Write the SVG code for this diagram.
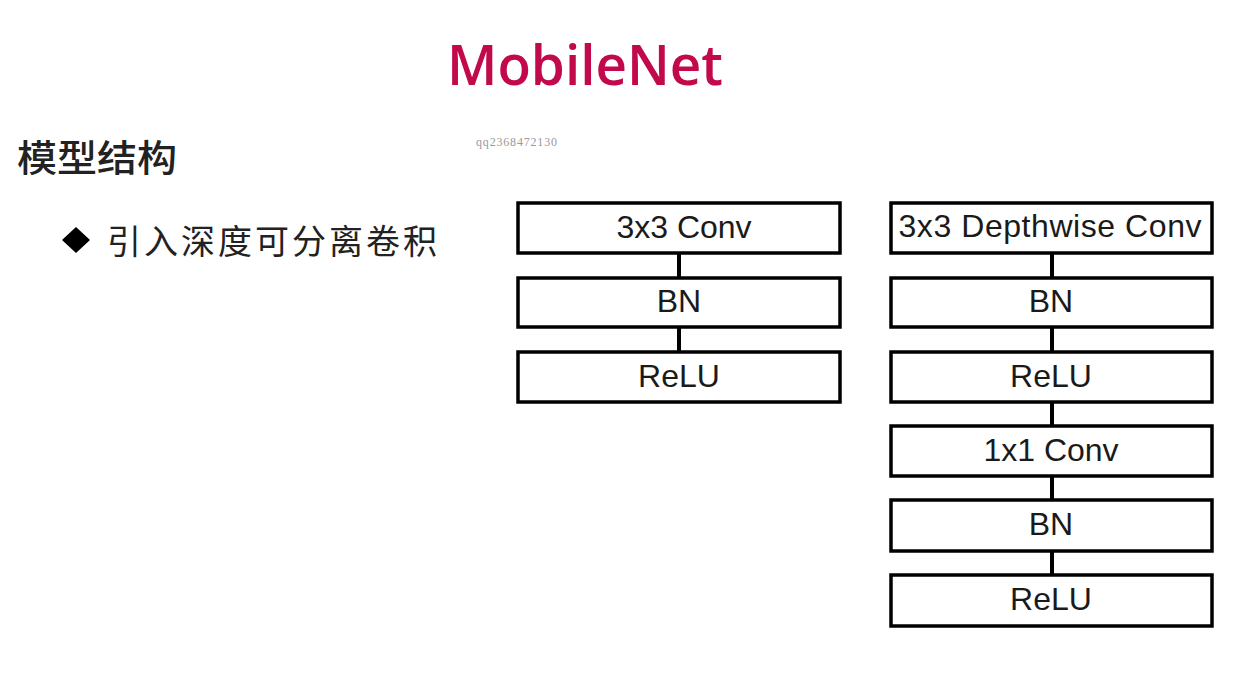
<svg xmlns="http://www.w3.org/2000/svg" width="1236" height="674" viewBox="0 0 1236 674">
<style>
.box{fill:#fff;stroke:#000;stroke-width:3.5}
.lbl{font-family:"Liberation Sans",Arial,sans-serif;font-size:32px;fill:#1a1a1a;text-anchor:middle}
.conn line{stroke:#000;stroke-width:4}
.cjk{font-family:"Noto Sans CJK SC","Noto Sans",sans-serif;fill:#222}
</style>
<rect width="1236" height="674" fill="#fff"/>
<text x="447" y="85" font-family="Open Sans, Lato, sans-serif" font-size="56" font-weight="600" fill="#C2094B" textLength="276" lengthAdjust="spacingAndGlyphs">MobileNet</text>
<text x="476" y="146" font-family="Liberation Serif, serif" font-size="12" fill="#9a9a9a" textLength="81">qq2368472130</text>
<text class="cjk" x="17" y="172" font-size="37" font-weight="500" textLength="160" lengthAdjust="spacingAndGlyphs">模型结构</text>
<polygon points="76,227 90,240 76,253 62,240" fill="#000"/>
<text class="cjk" x="107" y="254" font-size="34" textLength="330" lengthAdjust="spacing">引入深度可分离卷积</text>
<g id="connectors" class="conn">
<line x1="679" y1="253" x2="679" y2="278"/>
<line x1="679" y1="327" x2="679" y2="352"/>
<line x1="1052" y1="253" x2="1052" y2="278"/>
<line x1="1052" y1="327" x2="1052" y2="352"/>
<line x1="1052" y1="402" x2="1052" y2="426"/>
<line x1="1052" y1="476" x2="1052" y2="500"/>
<line x1="1052" y1="551" x2="1052" y2="575"/>
</g>
<g id="l_conv"><rect class="box" x="518" y="203" width="322" height="50"/><text class="lbl" x="684" y="238">3x3 Conv</text></g>
<g id="l_bn"><rect class="box" x="518" y="278" width="322" height="49"/><text class="lbl" x="679" y="312">BN</text></g>
<g id="l_relu"><rect class="box" x="518" y="352" width="322" height="50"/><text class="lbl" x="679" y="387">ReLU</text></g>
<g id="r_dw"><rect class="box" x="891" y="203" width="321" height="50"/><text class="lbl" x="1050" y="237" textLength="303">3x3 Depthwise Conv</text></g>
<g id="r_bn1"><rect class="box" x="891" y="278" width="321" height="49"/><text class="lbl" x="1051" y="312">BN</text></g>
<g id="r_relu1"><rect class="box" x="891" y="352" width="321" height="50"/><text class="lbl" x="1051" y="387">ReLU</text></g>
<g id="r_pw"><rect class="box" x="891" y="426" width="321" height="50"/><text class="lbl" x="1051" y="461">1x1 Conv</text></g>
<g id="r_bn2"><rect class="box" x="891" y="500" width="321" height="51"/><text class="lbl" x="1051" y="535">BN</text></g>
<g id="r_relu2"><rect class="box" x="891" y="575" width="321" height="51"/><text class="lbl" x="1051" y="610">ReLU</text></g>
</svg>
